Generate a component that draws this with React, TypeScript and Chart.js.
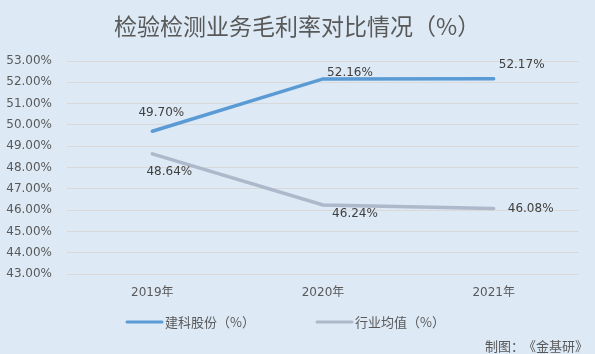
import React, { useEffect, useRef } from "react";
import { Chart, registerables } from "chart.js";

Chart.register(...registerables);

const title = "检验检测业务毛利率对比情况（%）";
const categories = ["2019年", "2020年", "2021年"];
const seriesNames = ["建科股份（%）", "行业均值（%）"];
const jianke = [49.7, 52.16, 52.17];
const industry = [48.64, 46.24, 46.08];
const yMin = 43;
const yMax = 53;
const yStep = 1;
const sourceLead = "制图：";
const sourceName = "《金基研》";

const colors = ["#5b9bd5", "#adb9ca"];
// label offsets relative to each point (px)
const labelOffsets = [
  [[9, -18], [27, -6], [28, -14]],
  [[17, 18], [32, 9], [37, 0]],
];

const FONT = "'DejaVu Sans', 'Noto Sans CJK SC', sans-serif";
const CJK = "'Noto Sans CJK SC', 'DejaVu Sans', sans-serif";

const decorPlugin = {
  id: "decor",
  beforeDraw(chart: any) {
    const ctx = chart.ctx;
    ctx.save();
    ctx.fillStyle = "#dde9f5";
    ctx.fillRect(0, 0, chart.width, chart.height);
    ctx.restore();
  },
  afterDraw(chart: any) {
    const ctx = chart.ctx;
    ctx.save();
    // title
    ctx.fillStyle = "#595959";
    ctx.font = `23px ${CJK}`;
    ctx.textAlign = "left";
    ctx.textBaseline = "middle";
    ctx.fillText(title, 114, 26);

    // data labels
    ctx.textAlign = "center";
    ctx.font = `12px ${FONT}`;
    ctx.fillStyle = "#404040";
    chart.data.datasets.forEach((ds: any, di: number) => {
      const meta = chart.getDatasetMeta(di);
      meta.data.forEach((pt: any, i: number) => {
        const v = ds.data[i];
        const [dx, dy] = labelOffsets[di][i];
        ctx.fillText(v.toFixed(2) + "%", pt.x + dx, pt.y + dy);
      });
    });

    // legend
    const legendY = 322;
    const legendX = [127, 317];
    ctx.font = `13px ${CJK}`;
    ctx.textAlign = "left";
    seriesNames.forEach((name, i) => {
      ctx.strokeStyle = colors[i];
      ctx.lineWidth = 3;
      ctx.lineCap = "round";
      ctx.beginPath();
      ctx.moveTo(legendX[i], legendY);
      ctx.lineTo(legendX[i] + 35, legendY);
      ctx.stroke();
      ctx.fillStyle = "#595959";
      ctx.fillText(name, legendX[i] + 38, legendY);
    });

    // source
    ctx.font = `13px ${CJK}`;
    ctx.fillStyle = "#595959";
    ctx.textAlign = "left";
    ctx.fillText(sourceLead, 485, 346);
    ctx.textAlign = "right";
    ctx.fillText(sourceName, 588, 346);
    ctx.restore();
  },
};

export default function App() {
  const ref = useRef<HTMLCanvasElement>(null);
  useEffect(() => {
    document.body.style.margin = "0";
    const chart = new Chart(ref.current!, {
      type: "line",
      data: {
        labels: categories,
        datasets: [
          {
            label: seriesNames[0],
            data: jianke,
            borderColor: colors[0],
            backgroundColor: colors[0],
            borderWidth: 3.5,
            pointRadius: 0,
            borderCapStyle: "round",
            tension: 0,
          },
          {
            label: seriesNames[1],
            data: industry,
            borderColor: colors[1],
            backgroundColor: colors[1],
            borderWidth: 3.5,
            pointRadius: 0,
            borderCapStyle: "round",
            tension: 0,
          },
        ],
      },
      options: {
        animation: false,
        responsive: false,
        maintainAspectRatio: false,
        devicePixelRatio: 1,
        layout: { padding: { left: 0, right: 16, top: 61, bottom: 0 } },
        plugins: {
          legend: { display: false },
          title: { display: false },
          tooltip: { enabled: false },
        },
        scales: {
          x: {
            offset: true,
            grid: { display: false, drawTicks: false },
            border: { display: false },
            ticks: {
              color: "#595959",
              font: { family: FONT, size: 12 },
              padding: 12,
            },
            afterFit: (axis: any) => {
              axis.height = 80;
            },
          },
          y: {
            min: yMin,
            max: yMax,
            grid: { color: "#d9d9d9", drawTicks: false, lineWidth: 1 },
            border: { display: false },
            ticks: {
              stepSize: yStep,
              color: "#595959",
              font: { family: FONT, size: 12 },
              padding: 15,
              callback: (v: any) => Number(v).toFixed(2) + "%",
            },
            afterFit: (axis: any) => {
              axis.width = 67;
            },
          },
        },
      },
      plugins: [decorPlugin],
    });
    return () => chart.destroy();
  }, []);
  return (
    <div style={{ width: 595, height: 354 }}>
      <canvas ref={ref} width={595} height={354} style={{ display: "block" }} />
    </div>
  );
}
